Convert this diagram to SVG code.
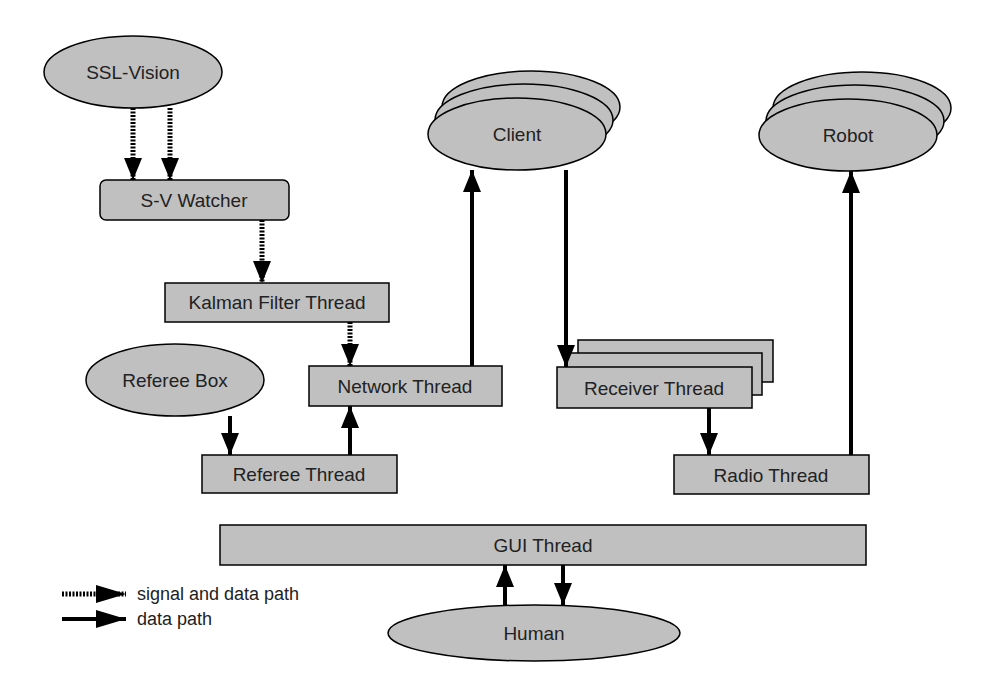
<svg xmlns="http://www.w3.org/2000/svg" width="991" height="700" viewBox="0 0 991 700">
<defs>
<marker id="ah" viewBox="0 0 10 10" preserveAspectRatio="none" refX="10" refY="5" markerWidth="22" markerHeight="18" markerUnits="userSpaceOnUse" orient="auto"><path d="M0,0L10,5L0,10z" fill="#000"/></marker>
<marker id="lh" viewBox="0 0 10 10" preserveAspectRatio="none" refX="10" refY="5" markerWidth="30" markerHeight="18" markerUnits="userSpaceOnUse" orient="auto"><path d="M0,0L10,5L0,10z" fill="#000"/></marker>
<style>
.n{fill:#c0c0c0;stroke:#000;stroke-width:1.5}
.t{font-family:"Liberation Sans",Arial,sans-serif;font-size:19px;fill:#222;text-anchor:middle;dominant-baseline:central}
.l{font-family:"Liberation Sans",Arial,sans-serif;font-size:18px;fill:#222;dominant-baseline:central}
.s{stroke:#000;stroke-width:4;fill:none;marker-end:url(#ah)}
.d{stroke:#000;stroke-width:5;stroke-dasharray:2 1.5;fill:none;marker-end:url(#ah)}
</style>
</defs>
<rect width="991" height="700" fill="#fff"/>
<g id="ssl"><ellipse class="n" cx="133" cy="72" rx="89" ry="36"/><text class="t" x="133" y="72">SSL-Vision</text></g>
<g id="watcher"><rect class="n" x="100" y="180" width="189" height="40" rx="6"/><text class="t" x="194" y="200">S-V Watcher</text></g>
<g id="kalman"><rect class="n" x="165" y="283" width="224" height="39"/><text class="t" x="277" y="302">Kalman Filter Thread</text></g>
<g id="network"><rect class="n" x="309" y="366" width="193" height="40"/><text class="t" x="405" y="386">Network Thread</text></g>
<g id="refbox"><ellipse class="n" cx="175" cy="380" rx="89" ry="36"/><text class="t" x="175" y="380">Referee Box</text></g>
<g id="refthread"><rect class="n" x="202" y="455" width="195" height="38"/><text class="t" x="299" y="474">Referee Thread</text></g>
<g id="client"><ellipse class="n" cx="531" cy="107" rx="89" ry="36"/><ellipse class="n" cx="524" cy="120" rx="89" ry="36"/><ellipse class="n" cx="517" cy="134" rx="89" ry="36"/><text class="t" x="517" y="134">Client</text></g>
<g id="robot"><ellipse class="n" cx="862" cy="108" rx="89" ry="36"/><ellipse class="n" cx="855" cy="121" rx="89" ry="36"/><ellipse class="n" cx="848" cy="135" rx="89" ry="36"/><text class="t" x="848" y="135">Robot</text></g>
<g id="receiver"><rect class="n" x="578" y="340" width="195" height="42"/><rect class="n" x="567" y="353" width="195" height="42"/><rect class="n" x="557" y="367" width="195" height="41"/><text class="t" x="654" y="388">Receiver Thread</text></g>
<g id="radio"><rect class="n" x="674" y="455" width="195" height="39"/><text class="t" x="771" y="475">Radio Thread</text></g>
<g id="gui"><rect class="n" x="220" y="525" width="646" height="40"/><text class="t" x="543" y="545">GUI Thread</text></g>
<g id="human"><ellipse class="n" cx="534" cy="633" rx="146" ry="28"/><text class="t" x="534" y="633">Human</text></g>
<g id="connectors">
<path class="d" d="M133,108V180"/>
<path class="d" d="M170,108V180"/>
<path class="d" d="M262,220V283"/>
<path class="d" d="M350,322V366"/>
<path class="s" d="M230,416V455"/>
<path class="s" d="M350,455V406"/>
<path class="s" d="M472,366V170"/>
<path class="s" d="M566,170V367"/>
<path class="s" d="M709,408V455"/>
<path class="s" d="M851,455V171"/>
<path class="s" d="M505,605V565"/>
<path class="s" d="M563,565V605"/>
</g>
<g id="legend">
<path class="d" style="marker-end:url(#lh)" d="M62,594H126"/><text class="l" x="137" y="594">signal and data path</text>
<path class="s" style="marker-end:url(#lh)" d="M62,619H126"/><text class="l" x="137" y="619">data path</text>
</g>
</svg>
